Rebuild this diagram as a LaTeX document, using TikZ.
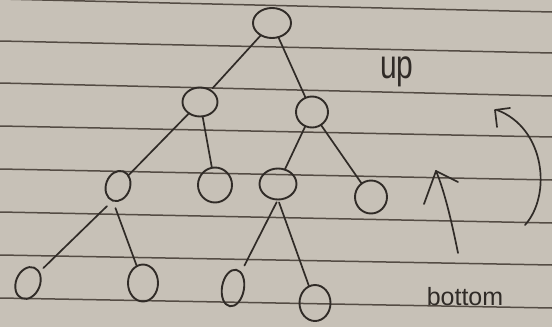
\documentclass[tikz,border=0pt]{standalone}
\usepackage{graphicx}
\usepackage{fontspec}
\setmainfont{Liberation Sans}
\usetikzlibrary{shapes.geometric}
\definecolor{paper}{RGB}{199,193,183}
\definecolor{ink}{RGB}{48,43,39}
\definecolor{rulecol}{RGB}{84,76,68}
\begin{document}
\begin{tikzpicture}[x=1pt,y=-1pt,
  nd/.style={ellipse, draw=ink, line width=1.9pt, inner sep=0pt, outer sep=0pt},
  edge/.style={draw=ink, line width=1.7pt, line cap=round},
  ruling/.style={draw=rulecol, line width=1.5pt},
  pen/.style={draw=ink, line width=1.7pt, line cap=round, line join=round},
  hand/.style={text=ink, inner sep=0pt, anchor=base}]
\fill[paper] (0,0) rectangle (552,327);
\useasboundingbox (0,0) rectangle (552,327);
% ruled lines of the paper
\foreach \a/\b in {-1/12, 41/53, 83/96, 126/137, 169/180, 212/223, 255/265, 298/308}
  \draw[ruling] (0,\a) -- (552,\b);
% tree nodes
\node[nd, minimum width=38pt, minimum height=30pt] (n0) at (272,23) {};
\node[nd, minimum width=35pt, minimum height=29pt] (n1) at (200,102) {};
\node[nd, minimum width=32pt, minimum height=31pt] (n2) at (312,112) {};
\node[nd, minimum width=24pt, minimum height=31pt, rotate=-20] (n3) at (118,186) {};
\node[nd, minimum width=34pt, minimum height=35pt] (n4) at (215,185) {};
\node[nd, minimum width=37pt, minimum height=31pt] (n5) at (278,184) {};
\node[nd, minimum width=32pt, minimum height=33pt] (n6) at (371,197) {};
\node[nd, minimum width=24pt, minimum height=33pt, rotate=-22] (n7) at (28,283) {};
\node[nd, minimum width=30pt, minimum height=37pt] (n8) at (143,283) {};
\node[nd, minimum width=22pt, minimum height=37pt, rotate=-10] (n9) at (233,288) {};
\node[nd, minimum width=31pt, minimum height=36pt] (n10) at (315,303) {};
% tree edges
\draw[edge, shorten >=3pt] (n0) -- (n1);
\draw[edge] (n0) -- (n2);
\draw[edge] (n1) -- (n3);
\draw[edge] (n1) -- (n4);
\draw[edge] (n2) -- (n5);
\draw[edge] (n2) -- (n6);
\draw[edge, shorten <=8pt, shorten >=6pt] (n3.south) -- (n7);
\draw[edge, shorten <=8pt] (n3.south) -- (n8);
\draw[edge, shorten <=3pt, shorten >=8pt] (n5.south) -- (n9);
\draw[edge, shorten <=3pt] (n5.south) -- (n10);
% labels
\node[hand] (up) at (397,78) {\fontsize{30}{30}\selectfont\scalebox{1}[1.35]{up}};
\node[hand] (bottom) at (465,305) {\fontsize{25}{25}\selectfont bottom};
% straight arrow
\coordinate (s0) at (458,253);
\coordinate (s1) at (436,171);
\draw[pen] (s0) .. controls (453,228) and (445,192) .. (s1);
\draw[pen] (424,204) -- (s1) -- (458,182);
% curved arrow
\coordinate (c0) at (525,225);
\coordinate (c1) at (497,110);
\draw[pen] (c0) .. controls (552,195) and (545,128) .. (c1);
\draw[pen] (497,127) -- (495,110) -- (510,108);
\end{tikzpicture}
\end{document}
